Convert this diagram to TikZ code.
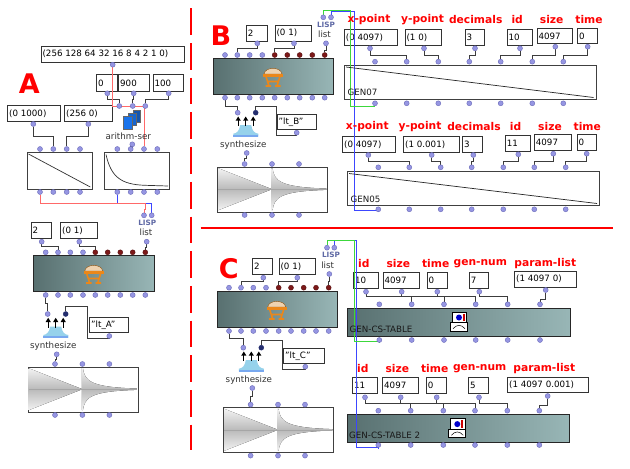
\documentclass[tikz,border=0pt]{standalone}
\usepackage{fontspec}
\setmainfont{DejaVu Sans}
\pgfdeclarelayer{boxlayer}
\pgfdeclarelayer{wirelayer}
\pgfsetlayers{boxlayer,wirelayer,main}
\definecolor{dotfill}{RGB}{150,150,226}
\definecolor{dotdraw}{RGB}{105,105,185}
\definecolor{dotred}{RGB}{125,25,25}
\definecolor{dotnavy}{RGB}{35,45,110}
\definecolor{wirec}{RGB}{60,60,60}
\definecolor{gleft}{RGB}{88,112,112}
\definecolor{gright}{RGB}{152,182,182}
\definecolor{lispc}{RGB}{95,105,165}
\definecolor{wred}{RGB}{255,105,105}
\definecolor{wblue}{RGB}{60,70,255}
\definecolor{wgreen}{RGB}{60,215,60}
\definecolor{synthc}{RGB}{150,210,235}
\definecolor{cubec}{RGB}{25,115,235}
\definecolor{cushion}{RGB}{238,210,175}
\definecolor{tableo}{RGB}{235,135,25}
\tikzset{
  dot/.style={circle, minimum size=5pt, inner sep=0pt, fill=dotfill, draw=dotdraw, line width=0.4pt},
  rdot/.style={dot, fill=dotred, draw=dotred!70!black},
  ndot/.style={dot, fill=dotnavy, draw=dotnavy},
  valstyle/.style={draw=black!80, line width=0.8pt, fill=white, inner xsep=1.5pt, inner ysep=0pt, font=\fontsize{8.7}{10}\selectfont, anchor=north west},
  gbox/.style={draw=black!85, line width=0.8pt, left color=gleft, right color=gright, inner sep=0pt, anchor=north west},
  wbox/.style={draw=black!75, line width=0.8pt, fill=white, inner sep=0pt, anchor=north west},
  hdr/.style={text=red, font=\bfseries\fontsize{10.7}{12}\selectfont, inner sep=0pt},
  big/.style={text=red, font=\bfseries\fontsize{27}{30}\selectfont, inner sep=0pt, anchor=base},
  lbl/.style={text=black!80, font=\fontsize{8.7}{10}\selectfont, inner sep=0pt},
  lisp/.style={text=lispc, font=\bfseries\fontsize{7.3}{8}\selectfont, inner sep=0pt},
  wire/.style={draw=wirec, line width=0.8pt},
  wave/.style={top color=black!5, bottom color=black!5, middle color=black!27},
}
\newcommand\valbox[6]{\begin{pgfonlayer}{boxlayer}\node[valstyle, minimum height={#5-#3}] (#1) at (#2,#3) {\makebox[\dimexpr #4pt-#2pt-3pt\relax][l]{#6}};\end{pgfonlayer}}
\newcommand\gbx[5]{\begin{pgfonlayer}{boxlayer}\node[gbox, minimum width={#4-#2}, minimum height={#5-#3}] (#1) at (#2,#3) {};\end{pgfonlayer}}
\newcommand\wbx[5]{\begin{pgfonlayer}{boxlayer}\node[wbox, minimum width={#4-#2}, minimum height={#5-#3}] (#1) at (#2,#3) {};\end{pgfonlayer}}
\newcommand\dotat[3]{\node[dot] (#1) at (#2,#3) {};}
\newcommand\dotrow[3]{\foreach \xx [count=\ii] in {#3} {\node[dot] (#1\ii) at (\xx,#2) {};}}
\newcommand\rdotrow[4]{\foreach \xx [count=\ii from #4] in {#3} {\node[rdot] (#1\ii) at (\xx,#2) {};}}
\newcommand\wire[4][]{\draw[wire,#1] (#2) -- (#2 |- 0,#4) -| (#3);}
\newcommand\tableicon[2]{\begin{scope}[shift={(#1,#2)}]
  \filldraw[fill=cushion, draw=tableo!60!black, line width=0.4pt] (-9,-3) .. controls (-8,-10.5) and (8,-10.5) .. (9,-3) -- cycle;
  \fill[tableo] (-10,-3.5) rectangle (10,-0.5);
  \draw[tableo, line width=1.6pt] (-7,-0.5) -- (-4,9) (7,-0.5) -- (4,9) (-6,4.5) -- (6,4.5) (-7.5,9) -- (-2,9) (2,9) -- (7.5,9);
\end{scope}}
\newcommand\csicon[2]{\begin{scope}[shift={(#1,#2)}]
  \draw[fill=white, line width=1pt] (2.3,0.5) rectangle (16.7,11);
  \fill[blue!80!black] (9,5.8) circle (3);
  \fill[red!80!black] (13,2) rectangle (15,9.5);
  \draw[fill=white, line width=0.8pt] (0.5,11) rectangle (17.2,19.5);
  \draw[line width=0.5pt] (3,17) .. controls (7,12.5) and (11,12.5) .. (15,17);
\end{scope}}
\newcommand\synth[3]{%
  \begin{scope}[shift={(#2,#3)}]
    \fill[synthc] (2.5,12.5) -- (13.5,12.5) .. controls (14.5,18.5) and (17,20.5) .. (20.6,21) -- (20.6,23.8) -- (-4.4,23.8) -- (-4.4,21) .. controls (-1,20.5) and (1.5,18.5) .. (2.5,12.5) -- cycle;
    \fill[synthc!80!blue] (-4.4,22) rectangle (20.6,23.8);
    \foreach \ax in {0.5,8,15.5} {\draw[line width=1.2pt] (\ax,13.5) -- (\ax,7); \fill (\ax-2.6,8) -- (\ax,3.8) -- (\ax+2.6,8) -- cycle;}
  \end{scope}
  \node[dot] (#1i1) at (#2,#3) {};
  \node[ndot] (#1i2) at (#2+18,#3) {};
  \node[lbl] (#1l) at (#2+5.6,#3+32) {synthesize};
  \node[dot] (#1o) at (#2+9,#3+40.3) {};}
\newcommand\snd[3]{%
  \wbx{#1}{#2}{#3}{#2+110}{#3+45}
  \begin{scope}[shift={(#2,#3)}]
    \fill[wave] (0.9,1.5) -- (54.7,22.5) -- (0.9,43.5) -- cycle;
    \fill[wave] (54.2,1.5) -- (55.2,1.5) .. controls (57,14) and (62,20.5) .. (109.1,21.8) -- (109.1,23.2) .. controls (62,24.5) and (57,31) .. (55.2,43.5) -- (54.2,43.5) -- cycle;
    \draw[black!35, line width=0.5pt] (0.9,22.5) -- (109.1,22.5);
  \end{scope}
  \node[dot] (#1i1) at (#2+27.3,#3-2.7) {};
  \node[dot] (#1i2) at (#2+54.7,#3-2.7) {};
  \node[dot] (#1i3) at (#2+81.7,#3-2.7) {};
  \node[dot] (#1o1) at (#2+27.3,#3+48.3) {};
  \node[dot] (#1o2) at (#2+54.7,#3+48.3) {};
  \node[dot] (#1o3) at (#2+81.7,#3+48.3) {};}
\begin{document}
\begin{tikzpicture}[x=1pt,y=-1pt]
\useasboundingbox (0,0) rectangle (630,469);
\begin{pgfonlayer}{boxlayer}\fill[white] (0,0) rectangle (630,469);\end{pgfonlayer}
% separators
\draw[red, line width=2pt, dash pattern=on 26.7pt off 8pt] (191,8.3) -- (191,450);
\draw[red, line width=2pt] (200.7,227.7) -- (612.7,227.7);
% ================= A =================
\node[big] (Aletter) at (29.2,93.3) {A};
\valbox{Atop}{40.7}{45.7}{184}{61.7}{(256 128 64 32 16 8 4 2 1 0)}
\dotat{Atopo}{112.7}{64.7}
\valbox{Azero}{96.3}{74.3}{116.7}{90.7}{0}
\valbox{Anine}{118.3}{74.3}{149.3}{90.7}{900}
\valbox{Ahund}{152.7}{74.3}{183.3}{90.7}{100}
\dotat{Azeroo}{107.3}{93.3}
\dotat{Anineo}{133.7}{93.3}
\dotat{Ahundo}{168.7}{93.3}
\dotrow{Aari}{106}{119.3,132.7,145.3}
\filldraw[fill=cubec!75!black, draw=black!60, line width=0.3pt] (133.3,110.5) rectangle (140,121.7);
\filldraw[fill=cubec!88!black, draw=black!60, line width=0.3pt] (128.3,113.3) rectangle (136.5,125);
\filldraw[fill=cubec, draw=black!60, line width=0.3pt] (122.7,116.3) rectangle (132.3,129);
\node[lbl] (Aarl) at (128.3,136) {arithm-ser};
\dotat{Aaro}{132.3}{144.3}
\valbox{Ar1}{7.3}{105.3}{60}{121}{(0 1000)}
\valbox{Ar2}{64.3}{105.3}{111.7}{121}{(256 0)}
\dotat{Ar1o}{33.3}{124}
\dotat{Ar2o}{88.3}{124}
\wbx{Abpf1}{26.7}{152}{92}{188.7}
\wbx{Abpf2}{104.3}{152}{169.3}{188.7}
\draw[black!80, line width=0.7pt] (28.5,154) -- (90.3,187);
\draw[black!80, line width=0.7pt] (106,154.5) .. controls (111,177) and (121,184.5) .. (145,185.3) -- (168,186);
\dotrow{Abai}{149}{40,53.3,66.7,80}
\dotrow{Abao}{192}{40,53.3,66.7,80}
\dotrow{Abbi}{149}{117.3,130.7,144,157.3}
\dotrow{Abbo}{192}{117.3,130.7,144,157.3}
\dotrow{Ali}{215.3}{144,151.7}
\node[lisp] (AlispT) at (147.3,222.7) {LISP};
\node[lbl] (AlistT) at (146,232.7) {list};
\dotat{Aliso}{146.7}{241.7}
\valbox{Atwo}{30.7}{222.3}{50.7}{238.3}{2}
\valbox{Azo}{60.3}{222.3}{96.7}{238.3}{(0 1)}
\dotat{Atwoo}{41.7}{241.7}
\dotat{Azoo}{79.3}{241.7}
\gbx{Amain}{33.3}{255.3}{154}{291.3}
\tableicon{93.7}{274}
\dotrow{Ami}{252.3}{45.7,58,70.3,83}
\rdotrow{Ami}{252.3}{95.3,107.7,120.3,132.7,145.3}{5}
\dotrow{Amo}{295}{45.7,58,70.3,83,95.3,107.7,120.3,132.7,145.3}
\synth{As}{47.7}{314}
\valbox{AltA}{89.3}{317.3}{128.3}{332}{"lt\_A"}
\dotat{AltAo}{109.3}{336}
\snd{Asnd}{27.7}{366.7}
% ================= B =================
\node[big] (Bletter) at (220.8,45) {B};
\valbox{Btwo}{246}{25}{266.7}{40.7}{2}
\valbox{Bzo}{274.7}{25}{311.3}{40.7}{(0 1)}
\dotat{Btwoo}{257.3}{43.3}
\dotat{Bzoo}{294}{43.3}
\dotrow{Bli}{17.3}{323.3,331}
\node[lisp] (BlispT) at (326,25) {LISP};
\node[lbl] (BlistT) at (324.5,34) {list};
\dotat{Bliso}{326}{43.3}
\gbx{Bmain}{212.7}{58.3}{333.3}{94.3}
\tableicon{273}{77}
\dotrow{Bmi}{55}{225,237.3,249.7,262.3}
\rdotrow{Bmi}{55}{274.7,287.3,299.7,312.3,324.7}{5}
\dotrow{Bmo}{97.7}{225,237.3,249.7,262.3,274.7,287.3,299.7,312.3,324.7}
\synth{Bs}{237.7}{112.7}
\valbox{BltB}{276.7}{114}{316}{129.3}{"lt\_B"}
\dotat{BltBo}{296.7}{132.7}
\snd{Bsnd}{217.3}{166.7}
% row 1 GEN07
\node[hdr] (Bh1a) at (369,20) {x-point};
\node[hdr] (Bh1b) at (422.5,20) {y-point};
\node[hdr] (Bh1c) at (475.7,20) {decimals};
\node[hdr] (Bh1d) at (517.2,20) {id};
\node[hdr] (Bh1e) at (551.7,20) {size};
\node[hdr] (Bh1f) at (589,20) {time};
\valbox{Bxa}{344}{29.3}{396.7}{45}{(0 4097)}
\valbox{Bya}{404.7}{29.3}{441}{45}{(1 0)}
\valbox{Bda}{464.7}{29.3}{484}{45}{3}
\valbox{Bia}{506.7}{29.3}{531.7}{45}{10}
\valbox{Bsa}{536.7}{28.3}{572.3}{43.3}{4097}
\valbox{Bta}{577.3}{28.3}{597.3}{43.3}{0}
\dotat{Bxao}{370}{48.3}
\dotat{Byao}{424}{48.3}
\dotat{Bdao}{475}{48.3}
\dotat{Biao}{520}{48.3}
\dotat{Bsao}{555.3}{46.7}
\dotat{Btao}{587.7}{46.7}
\wbx{Bg7}{344}{65}{595.7}{99.3}
\draw[black!85, line width=0.7pt] (346,67) -- (593.5,97.5);
\node[lbl, anchor=west, text=black!90] (Bg7l) at (347.5,92.3) {GEN07};
\dotrow{Bg7i}{61.7}{375,406.7,438.3,469.3,500.7,532.3,563.3}
\dotrow{Bg7o}{103.3}{375,406.7,438.3,469.3,500.7,532.3,563.3}
% row 2 GEN05
\node[hdr] (Bh2a) at (367.3,126.7) {x-point};
\node[hdr] (Bh2b) at (420,126.7) {y-point};
\node[hdr] (Bh2c) at (474,126.7) {decimals};
\node[hdr] (Bh2d) at (515.5,126.7) {id};
\node[hdr] (Bh2e) at (550,126.7) {size};
\node[hdr] (Bh2f) at (587.3,126.7) {time};
\valbox{Bxb}{342.3}{136}{395}{152.3}{(0 4097)}
\valbox{Byb}{403.3}{136}{458.7}{152.3}{(1 0.001)}
\valbox{Bdb}{462.3}{136}{482.3}{152.3}{3}
\valbox{Bib}{505}{135}{530}{150.7}{11}
\valbox{Bsb}{534}{134.3}{570.7}{150}{4097}
\valbox{Btb}{576.7}{134.3}{596}{150}{0}
\dotat{Bxbo}{368.3}{155}
\dotat{Bybo}{431.7}{155}
\dotat{Bdbo}{473.3}{155}
\dotat{Bibo}{518.3}{154.3}
\dotat{Bsbo}{553.3}{153.7}
\dotat{Btbo}{586.7}{153.7}
\wbx{Bg5}{346.7}{171}{599}{205}
\draw[black!85, line width=0.7pt] (349,173.5) -- (597,203.5);
\node[lbl, anchor=west, text=black!90] (Bg5l) at (350.5,199) {GEN05};
\dotrow{Bg5i}{167.3}{378.3,409.3,440.7,471.7,503.3,534.3,565.7}
\dotrow{Bg5o}{209.3}{378.3,409.3,440.7,471.7,503.3,534.3,565.7}
% ================= C =================
\node[big] (Cletter) at (228.8,278) {C};
\valbox{Ctwo}{252.3}{258.3}{271.7}{274}{2}
\valbox{Czo}{278.7}{258.3}{315}{274}{(0 1)}
\dotat{Ctwoo}{263.3}{277.7}
\dotat{Czoo}{297.3}{277.7}
\dotrow{Cli}{247.7}{327,334.3}
\node[lisp] (ClispT) at (331,255) {LISP};
\node[lbl] (ClistT) at (327.7,265) {list};
\dotat{Cliso}{329.3}{274}
\gbx{Cmain}{216.7}{291}{336.7}{327.3}
\tableicon{276.7}{310}
\dotrow{Cmi}{287.7}{229,241,253.3,266}
\rdotrow{Cmi}{287.7}{278.7,291,303.7,316,328.7}{5}
\dotrow{Cmo}{331}{229,241,253.3,266,278.7,291,303.7,316,328.7}
\synth{Cs}{243.3}{347.7}
\valbox{CltC}{283.3}{348.3}{324}{363.3}{"lt\_C"}
\dotat{CltCo}{305.3}{366.7}
\snd{Csnd}{223.3}{407.3}
% row 1 GEN-CS-TABLE
\node[hdr] (Ch1a) at (363.8,263.3) {id};
\node[hdr] (Ch1b) at (398.3,263.3) {size};
\node[hdr] (Ch1c) at (435.7,263.3) {time};
\node[hdr] (Ch1d) at (480.3,263.3) {gen-num};
\node[hdr] (Ch1e) at (545.3,263.3) {param-list};
\valbox{Cia}{353.3}{272.3}{378.3}{287.7}{10}
\valbox{Csa}{382.7}{272.3}{419.3}{287.7}{4097}
\valbox{Cta}{426.7}{272.3}{446.7}{287.7}{0}
\valbox{Cna}{469}{272.3}{488.3}{287.7}{7}
\valbox{Cpa}{514.3}{271}{575.7}{286.7}{(1 4097 0)}
\dotat{Ciao}{366}{291.7}
\dotat{Csao}{401.7}{291.7}
\dotat{Ctao}{437.3}{291.7}
\dotat{Cnao}{479.3}{291.7}
\dotat{Cpao}{545.7}{290}
\gbx{Cg1}{347.3}{307.7}{570}{336}
\csicon{450}{311.7}
\node[lbl, anchor=west, text=black!90] (Cg1l) at (349.5,329.8) {GEN-CS-TABLE};
\dotrow{Cg1i}{304.3}{379.3,411.7,444,475.7,507.7,540}
\dotrow{Cg1o}{340}{379.3,411.7,444,475.7,507.7,540}
% row 2 GEN-CS-TABLE 2
\node[hdr] (Ch2a) at (362.8,369) {id};
\node[hdr] (Ch2b) at (397.3,369) {size};
\node[hdr] (Ch2c) at (434.7,369) {time};
\node[hdr] (Ch2d) at (479.7,369) {gen-num};
\node[hdr] (Ch2e) at (544.3,369) {param-list};
\valbox{Cib}{352.3}{377.3}{377.3}{393.3}{11}
\valbox{Csb}{382.3}{377.3}{418.3}{393.3}{4097}
\valbox{Ctb}{426}{377.3}{445.7}{393.3}{0}
\valbox{Cnb}{468.3}{377.3}{487.7}{393.3}{5}
\valbox{Cpb}{507.3}{376.7}{588.3}{392.3}{(1 4097 0.001)}
\dotat{Cibo}{365}{397.3}
\dotat{Csbo}{400.7}{397.3}
\dotat{Ctbo}{436.7}{397.3}
\dotat{Cnbo}{479}{397.3}
\dotat{Cpbo}{547.7}{396}
\gbx{Cg2}{346.7}{414}{569.3}{442.3}
\csicon{448.3}{418.3}
\node[lbl, anchor=west, text=black!90] (Cg2l) at (349,435.8) {GEN-CS-TABLE 2};
\dotrow{Cg2i}{410.7}{378.3,410.7,443.3,475,507.3,539.3}
\dotrow{Cg2o}{445}{378.3,410.7,443.3,475,507.3,539.3}
% ================= wires =================
\begin{pgfonlayer}{wirelayer}
% A
\wire{Azeroo}{Aari1}{99}
\wire{Anineo}{Aari2}{99}
\wire{Ahundo}{Aari3}{99}
\draw[wire, draw=wred] (Atopo) -- (Atopo |- 0,106) -- (Abbi3 |- 0,106) -- (Abbi3);
\wire{Aaro}{Abbi2}{146.6}
\wire{Ar1o}{Abai2}{136.7}
\wire{Ar2o}{Abai3}{136.7}
\wire[draw=wblue]{Abbo1}{Ali2}{203.3}
\draw[wire, draw=wred] (Abao1) -- (Abao1 |- 0,203.3) -- (145.3,203.3) -- (145.3,209) -| (Ali1);
\wire{Aliso}{Ami9}{247.5}
\wire{Atwoo}{Ami2}{246.7}
\wire{Azoo}{Ami5}{246.7}
\wire{Amo1}{Asi1}{303.3}
\draw[wire] (AltAo) -- (AltAo |- 0,338.3) -- (87.7,338.3) -- (87.7,306.7) -| (Asi2);
\wire{Aso}{Asndi1}{359}
% B
\wire{Btwoo}{Bmi2}{48.3}
\wire{Bzoo}{Bmi5}{48.3}
\wire{Bliso}{Bmi9}{50}
\wire{Bmo1}{Bsi1}{106.7}
\draw[wire] (BltBo) -- (BltBo |- 0,135) -- (276.7,135) -- (276.7,106.7) -| (Bsi2);
\wire{Bso}{Bsndi1}{158.5}
\wire{Bxao}{Bg7i2}{55}
\wire{Byao}{Bg7i3}{55}
\wire{Bdao}{Bg7i4}{55}
\wire{Biao}{Bg7i5}{55}
\wire{Bsao}{Bg7i6}{55}
\wire{Btao}{Bg7i7}{55}
\wire{Bxbo}{Bg5i2}{161.7}
\wire{Bybo}{Bg5i3}{161.7}
\wire{Bdbo}{Bg5i4}{161.7}
\wire{Bibo}{Bg5i5}{161.7}
\wire{Bsbo}{Bg5i6}{161.7}
\wire{Btbo}{Bg5i7}{161.7}
\draw[wire, draw=wblue] (Bli2) -- (Bli2 |- 0,11.7) -- (354,11.7) -- (354,210.7) -| (Bg5o1);
\draw[wire, draw=wgreen] (Bli1) -- (Bli1 |- 0,10) -- (350,10) -- (350,106) -| (Bg7o1);
% C
\wire{Ctwoo}{Cmi2}{281.7}
\wire{Czoo}{Cmi5}{281.7}
\wire{Cliso}{Cmi9}{281}
\wire{Cmo1}{Csi1}{338.3}
\draw[wire] (CltCo) -- (CltCo |- 0,369) -- (282.7,369) -- (282.7,340) -| (Csi2);
\wire{Cso}{Csndi1}{396}
\wire{Ciao}{Cg1i2}{296.7}
\wire{Csao}{Cg1i3}{296.7}
\wire{Ctao}{Cg1i4}{296.7}
\wire{Cnao}{Cg1i5}{296.7}
\wire{Cpao}{Cg1i6}{299}
\wire{Cibo}{Cg2i2}{403.3}
\wire{Csbo}{Cg2i3}{403.3}
\wire{Ctbo}{Cg2i4}{403.3}
\wire{Cnbo}{Cg2i5}{403.3}
\wire{Cpbo}{Cg2i6}{405}
\draw[wire, draw=wblue] (Cli2) -- (Cli2 |- 0,240.5) -- (356.5,240.5) -- (356.5,447.5) -| (Cg2o1);
\draw[wire, draw=wgreen] (Cli1) -- (Cli1 |- 0,240) -- (354,240) -- (354,341.7) -| (Cg1o1);
\end{pgfonlayer}
\end{tikzpicture}
\end{document}
